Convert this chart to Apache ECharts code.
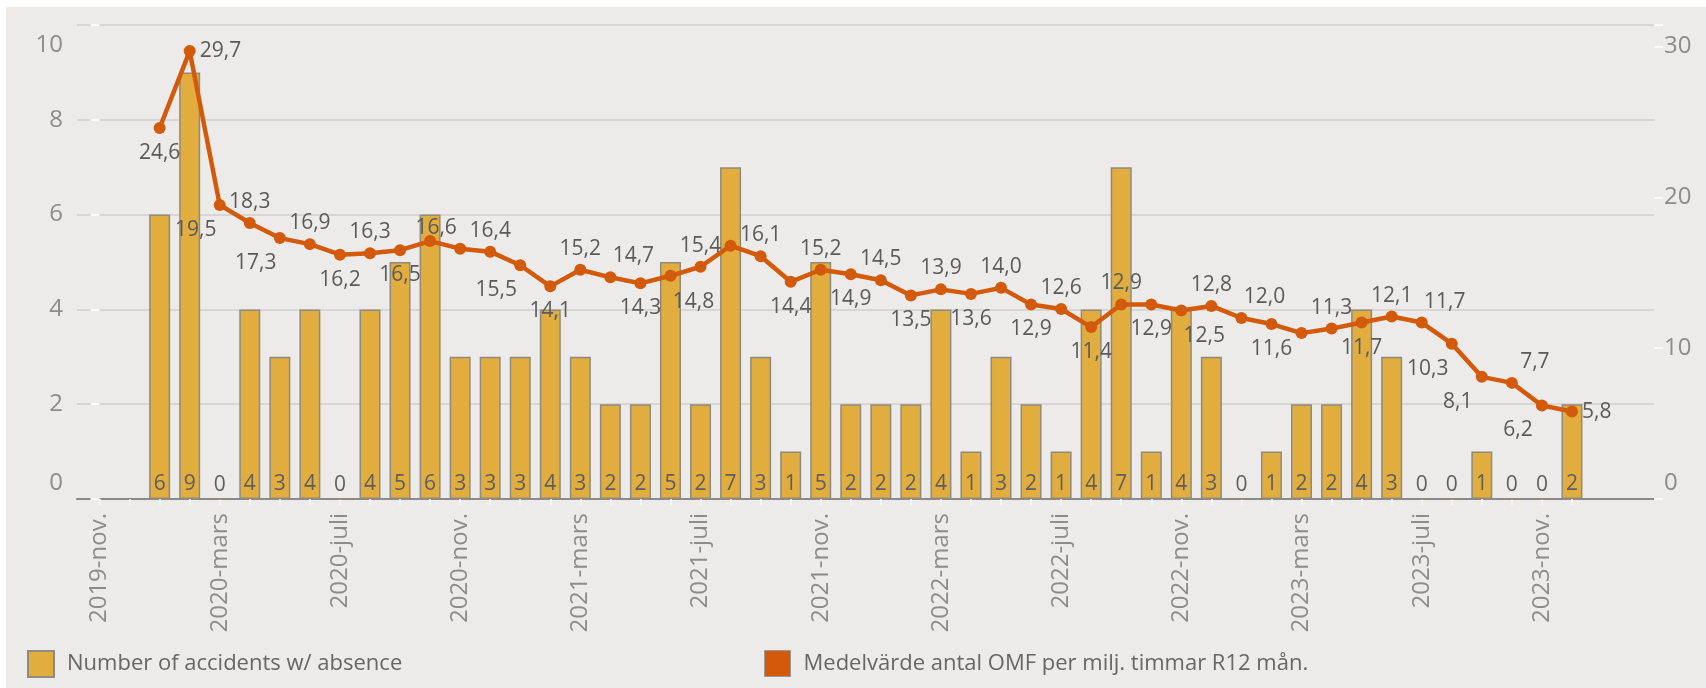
<!DOCTYPE html>
<html>
<head>
<meta charset="utf-8">
<script src="https://cdn.jsdelivr.net/npm/echarts@6/dist/echarts.min.js"></script>
<style>
html, body { margin: 0; padding: 0; background: #fff; }
#bg { position: absolute; left: 6px; top: 7px; width: 1700px; height: 681px; background: #ECEBE9; }
#chart { position: absolute; left: 0; top: 0; width: 1706px; height: 688px; }
</style>
</head>
<body>
<div id="bg"></div>
<div id="chart"></div>
<script>
// monthly categories, 2019-nov .. 2023-dec
var months = [
    '2019-nov.', '2019-dec.',
    '2020-jan.', '2020-feb.', '2020-mars', '2020-apr.', '2020-maj', '2020-juni', '2020-juli', '2020-aug.', '2020-sep.', '2020-okt.', '2020-nov.', '2020-dec.',
    '2021-jan.', '2021-feb.', '2021-mars', '2021-apr.', '2021-maj', '2021-juni', '2021-juli', '2021-aug.', '2021-sep.', '2021-okt.', '2021-nov.', '2021-dec.',
    '2022-jan.', '2022-feb.', '2022-mars', '2022-apr.', '2022-maj', '2022-juni', '2022-juli', '2022-aug.', '2022-sep.', '2022-okt.', '2022-nov.', '2022-dec.',
    '2023-jan.', '2023-feb.', '2023-mars', '2023-apr.', '2023-maj', '2023-juni', '2023-juli', '2023-aug.', '2023-sep.', '2023-okt.', '2023-nov.', '2023-dec.'
];

// which categories get a tick label (every 4th month)
var labelIdx = [0, 4, 8, 12, 16, 20, 24, 28, 32, 36, 40, 44, 48];

var accidents = [
    null, null,
    6, 9, 0, 4, 3, 4, 0, 4, 5, 6, 3, 3,
    3, 4, 3, 2, 2, 5, 2, 7, 3, 1, 5, 2,
    2, 2, 4, 1, 3, 2, 1, 4, 7, 1, 4, 3,
    0, 1, 2, 2, 4, 3, 0, 0, 1, 0, 0, 2
];

var omf = [
    null, null,
    24.6, 29.7, 19.5, 18.3, 17.3, 16.9, 16.2, 16.3, 16.5, 17.1, 16.6, 16.4,
    15.5, 14.1, 15.2, 14.7, 14.3, 14.8, 15.4, 16.8, 16.1, 14.4, 15.2, 14.9,
    14.5, 13.5, 13.9, 13.6, 14.0, 12.9, 12.6, 11.4, 12.9, 12.9, 12.5, 12.8,
    12.0, 11.6, 11.0, 11.3, 11.7, 12.1, 11.7, 10.3, 8.1, 7.7, 6.2, 5.8
];

// where each line label sits ('-' = hidden, as in the original)
var labelPlace = [
    '', '',
    'B', 'R', 'BL', 'T', 'BL', 'T', 'B', 'T', 'B', '-', 'TL', 'T',
    'BL', 'B', 'T', 'TR', 'B', 'BR', 'T', '-', 'T', 'B', 'T', 'B',
    'T', 'B', 'T', 'B', 'T', 'B', 'T', 'B', 'T', 'B', 'BR', 'T',
    'TR', 'B', '-', 'T', 'B', 'T', 'TR', 'BL', 'BL', 'TR', 'BL', 'R'
];

var barName = 'Number of accidents w/ absence';
var lineName = 'Medelvärde antal OMF per milj. timmar R12 mån.';

var FONT = '"Open Sans", "DejaVu Sans", sans-serif';
var offsets = {
    T: [0, -21], B: [0, 25], TL: [-24, -21], TR: [23, -21], BL: [-24, 25], BR: [23, 26]
};

var barData = [];
accidents.forEach(function (v, i) {
    if (v !== null) barData.push([i, v]);
});

var lineData = [];
omf.forEach(function (v, i) {
    if (v === null) return;
    var p = labelPlace[i];
    var lab = { show: p !== '-' };
    if (p === 'R') {
        lab.position = 'right';
        lab.distance = 4;
    } else if (offsets[p]) {
        lab.position = 'inside';
        lab.offset = offsets[p];
    }
    lineData.push({ value: [i, v], label: lab });
});

var allIdx = months.map(function (m, i) { return i; });

var chart = echarts.init(document.getElementById('chart'));
chart.setOption({
    backgroundColor: 'transparent',
    animation: false,
    textStyle: { fontFamily: FONT },
    grid: { left: 77, right: 52, top: 25, bottom: 189 },
    legend: [{
        data: [{ name: barName, icon: 'rect' }],
        left: 22, top: 645,
        itemWidth: 26, itemHeight: 26,
        textStyle: { fontFamily: FONT, fontSize: 22, color: '#666', padding: [0, 0, 0, 8] }
    }, {
        data: [{ name: lineName, icon: 'rect', itemStyle: { color: '#D35A0A', borderColor: '#999', borderWidth: 1 } }],
        left: 759, top: 645,
        itemWidth: 26, itemHeight: 26,
        textStyle: { fontFamily: FONT, fontSize: 22, color: '#666', padding: [0, 0, 0, 8] }
    }],
    xAxis: {
        type: 'value',
        min: -0.75,
        max: 51.73,
        splitLine: { show: false },
        axisLine: { show: true, onZero: false, lineStyle: { color: '#8A8A8A', width: 2 } },
        axisTick: { show: true, customValues: allIdx, length: 6, lineStyle: { color: '#F8F8F8', width: 1.5 } },
        axisLabel: {
            customValues: labelIdx,
            rotate: 90,
            margin: 14,
            fontSize: 24,
            color: '#8C8C8C',
            fontFamily: FONT,
            formatter: function (v) { return months[v] || ''; }
        }
    },
    yAxis: [{
        type: 'value',
        min: 0, max: 10, interval: 2,
        position: 'left',
        axisLine: { show: false },
        axisTick: { show: true, length: 9, lineStyle: { color: '#FAFAFA', width: 2 } },
        splitLine: { show: true, lineStyle: { color: '#D8D6D3', width: 2 } },
        axisLabel: {
            margin: 14, fontSize: 24, color: '#8C8C8C', fontFamily: FONT,
            padding: [8, 0, 4, 0],
            verticalAlignMaxLabel: 'top', verticalAlignMinLabel: 'bottom'
        }
    }, {
        type: 'value',
        min: 0, max: 31.43, interval: 10,
        position: 'right',
        axisLine: { show: false },
        axisTick: { show: true, length: 9, lineStyle: { color: '#FAFAFA', width: 2 } },
        splitLine: { show: false },
        axisLabel: {
            margin: 10, fontSize: 24, color: '#8C8C8C', fontFamily: FONT,
            padding: [4, 0, 4, 0],
            verticalAlignMinLabel: 'bottom',
            formatter: function (v) { return v % 10 === 0 ? v : ''; }
        }
    }],
    series: [{
        name: barName,
        type: 'bar',
        yAxisIndex: 0,
        barWidth: 21,
        data: barData,
        itemStyle: { color: '#E2AD3F', borderColor: '#8F8A7E', borderWidth: 1.5 },
        label: {
            show: true,
            position: 'insideBottom',
            distance: 4,
            fontSize: 21,
            color: '#5E5E5E',
            fontFamily: FONT,
            formatter: function (p) { return p.value[1]; }
        }
    }, {
        name: lineName,
        type: 'line',
        yAxisIndex: 1,
        z: 3,
        data: lineData,
        symbol: 'circle',
        symbolSize: 12,
        lineStyle: { color: '#D35A0A', width: 4.5 },
        itemStyle: { color: '#D35A0A' },
        label: {
            fontSize: 21,
            color: '#5A5A5A',
            fontFamily: FONT,
            formatter: function (p) { return p.value[1].toFixed(1).replace('.', ','); }
        }
    }]
});
</script>
</body>
</html>
